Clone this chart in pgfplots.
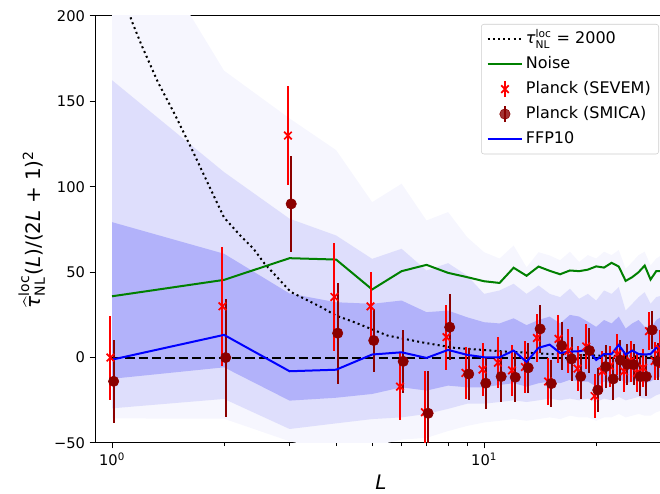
\documentclass[border=0pt]{standalone}
\usepackage{fontspec}
\setmainfont{DejaVu Sans}
\usepackage{amsmath}
\usepackage{pgfplots}
\usepackage{pgfplotstable}
\pgfplotsset{compat=1.18}
\usepgfplotslibrary{fillbetween}
\usetikzlibrary{calc}
\definecolor{bandA}{RGB}{246,246,254}
\definecolor{bandB}{RGB}{222,222,252}
\definecolor{bandC}{RGB}{178,178,250}
\definecolor{mplgreen}{RGB}{0,128,0}
\definecolor{dred}{RGB}{139,0,0}
\pgfplotsset{
  sevemlegend/.style={legend image code/.code={\draw[red, line width=1.5pt] (13pt,-6pt) -- (13pt,6pt); \draw[##1] plot coordinates {(13pt,0pt)};}},
  smicalegend/.style={legend image code/.code={\draw[dred, line width=1.5pt] (13pt,-6pt) -- (13pt,6pt); \draw[##1] plot coordinates {(13pt,0pt)};}},
  linelegend/.style={legend image code/.code={\draw[##1] (0pt,0pt) -- (26pt,0pt);}},
}

\pgfplotstableread{
L olo mlo ilo ihi mhi ohi
1 -35.6 -29.7 -12.4 79.3 162.4 276
2 -35.8 -24.2 -5.7 60.8 108.6 168
3 -49 -41.8 -25.2 37.5 81.3 140
4 -55 -38.5 -23.5 32.4 71.5 121.5
5 -52 -36 -21.3 31.5 57.8 91
6 -48 -35 -17.4 33.4 63.7 101.8
7 -47 -33 -19.3 26.6 51 80.3
8 -43 -30 -16.4 27.5 55.3 85.2
9 -40 -27 -17.4 23.6 48 70.5
10 -38 -27 -17.4 20.7 37.3 61.7
11 -37 -26 -16 20 39.3 58
12 -36 -25 -15 23 43.2 65.6
13 -37 -26 -17 19 37.3 52.9
14 -36 -25 -15 22 42.2 61.7
15 -35 -24 -14 24 37.3 59.8
16 -36 -25 -15 20 35.4 57
17 -34 -24 -13 25 40.3 62
18 -35 -25 -14 24 34.4 56
19 -35 -24 -14 21 37.3 60
20 -37 -26 -17 18 33.4 58
21 -35 -24 -14 22 39.3 62
22 -35 -25 -15 20 37.3 60
23 -33 -23 -12 24 41.2 63
24 -35 -25 -15 17 27.5 52
25 -34 -24 -14 20 31.5 56
26 -33 -23 -13 22 35.4 60
27 -34 -24 -15 18 38.3 62
28 -34 -24 -14 17 31.5 54
29 -32 -22 -12 22 35.4 58
30 -31 -21 -11 24 36.3 60
}\bands

\pgfplotstableread{
L v
1.1 205
1.13 197
1.2 183
1.33 161
1.47 143
1.63 123
1.81 102
2.0 82
2.2 72
2.4 63.7
2.57 55
3.02 38.5
3.65 29.5
4.0 24.6
4.48 20.7
5.5 12.9
6.77 9.0
8.32 5.7
11.1 3.7
15 2.1
20 1.2
30 0.5
}\tautab

\pgfplotstableread{
L v
1 35.9
2 45.5
3 58.2
4 57.4
5 39.9
6 50.6
7 54.3
8 49.6
9 47.1
10 44.7
11 43.7
12 52.6
13 47.9
14 53.3
15 50.8
16 48.8
17 51
18 50.6
19 51.5
20 53.4
21 52.7
22 55.5
23 53.3
24 44.9
25 47.1
26 50.0
27 53.9
28 45.7
29 50.6
30 50.6
}\noise

\pgfplotstableread{
L v
1 -1.2
2 13.3
3 -8.0
4 -7.1
5 1.8
6 3.1
7 -0.2
8 4.5
9 1.6
10 0.2
11 0.2
12 4.1
13 -2.5
14 5.7
15 7.6
16 2.7
17 3.5
18 3.7
19 4.7
20 -1.4
21 2.1
22 2.1
23 7.4
24 1.8
25 4.1
26 2.1
27 1.8
28 2.1
29 5.7
30 7.0
}\ffp

\pgfplotstableread{
L v e
0.99 0 24.6
1.98 30 35
2.97 130 29
3.96 35.5 31.5
4.95 30 20
5.94 -17 19.5
6.93 -32 24
7.92 12 19
8.91 -9 15
9.9 -7 15.5
10.89 -3 15
11.88 -7.5 15
12.87 -5.5 15
13.86 11.5 14
14.85 -14 14
15.84 11 14
16.83 4 13
17.82 -6.5 13
18.81 6.5 13
19.8 -22.5 13
20.79 -8 12
21.78 -5 12
22.77 2 12
23.76 -8 12
24.75 -2 12
25.74 -9 11
26.73 -6 11
27.72 15.5 11
28.71 -2 11
29.7 5 11
}\sevem

\pgfplotstableread{
L v e
1.01 -13.9 24.4
2.02 0 34.5
3.03 90 28
4.04 14.3 29.5
5.05 10 18.5
6.06 -2.2 18.3
7.07 -32.6 25
8.08 17.8 19.5
9.09 -9.6 15
10.1 -15 15
11.11 -11.1 15
12.12 -11.5 14.5
13.13 -6 14.5
14.14 16.8 14
15.15 -15.2 14
16.16 7 14
17.17 -0.8 13
18.18 -11 13
19.19 4.1 13
20.2 -19 13
21.21 -5.3 12.5
22.22 -12.5 12.5
23.23 -1.5 12
24.24 -4 12
25.25 -4.1 12
26.26 -11.1 11.5
27.27 -11.1 11.5
28.28 16.2 11
29.29 -2.3 11
30.3 -2 11
}\smica

\begin{document}
\begin{tikzpicture}
\begin{axis}[
  scale only axis,
  width=429pt, height=320.25pt,
  xmode=log, xmin=0.9, xmax=31,
  ymin=-50, ymax=200,
  xtick={1,10}, xticklabels={10\textsuperscript{0},10\textsuperscript{1}},
  minor xtick={2,3,4,5,6,7,8,9,20,30},
  ytick={-50,0,50,100,150,200},
  yticklabels={−50,0,50,100,150,200},
  xtick pos=bottom, ytick pos=left,
  tick align=outside,
  major tick length=4pt, minor tick length=2.3pt,
  tick style={black, line width=0.75pt},
  axis line style={black, line width=0.75pt},
  tick label style={font=\fontsize{11}{13}\selectfont},
  label style={font=\fontsize{15}{18}\selectfont},
  xlabel={\textit{L}},
  ylabel={$\widehat{\text{\itshape τ}}^{\text{loc}}_{\text{NL}}$(\textit{L})/(2\textit{L} + 1)$^{\text{2}}$},
  legend style={at={(rel axis cs:1,1)}, anchor=north east, xshift=-6pt, yshift=-6pt,
    draw=black!20, rounded corners=2pt, fill=white, fill opacity=0.8, text opacity=1,
    font=\fontsize{12}{14}\selectfont, row sep=1.2pt, inner xsep=4pt, inner ysep=2.5pt,
    nodes={text height=9.5pt, text depth=3pt, inner ysep=2.5pt}},
  legend cell align=left,
  linelegend,
]
\coordinate (bl) at (rel axis cs:0,0);
\coordinate (tr) at (rel axis cs:1,1);
% bands
\addplot[draw=none, name path=olo, forget plot] table[x=L,y=olo]{\bands};
\addplot[draw=none, name path=ohi, forget plot] table[x=L,y=ohi]{\bands};
\addplot[draw=none, name path=mlo, forget plot] table[x=L,y=mlo]{\bands};
\addplot[draw=none, name path=mhi, forget plot] table[x=L,y=mhi]{\bands};
\addplot[draw=none, name path=ilo, forget plot] table[x=L,y=ilo]{\bands};
\addplot[draw=none, name path=ihi, forget plot] table[x=L,y=ihi]{\bands};
\addplot[fill=bandA, draw=none, forget plot] fill between[of=ohi and olo];
\addplot[fill=bandB, draw=none, forget plot] fill between[of=mhi and mlo];
\addplot[fill=bandC, draw=none, forget plot] fill between[of=ihi and ilo];
% zero line
\addplot[black, line width=1.5pt, dash pattern=on 7pt off 3pt, forget plot] coordinates {(1,0) (30,0)};
% tau line
\addplot[black, line width=1.5pt, dash pattern=on 1.5pt off 2.4pt] table[x=L,y=v]{\tautab};
\addlegendentry{$\text{\itshape τ}^{\text{loc}}_{\text{NL}}$ = 2000}
\addplot[mplgreen, line width=1.5pt] table[x=L,y=v]{\noise};
\addlegendentry{Noise}
\addplot[red, only marks, mark=x, mark size=4pt, mark options={line width=1.3pt, solid},
  sevemlegend,
  error bars/.cd, y dir=both, y explicit, error mark=none,
  error bar style={line width=1.5pt, red}]
  table[x=L,y=v,y error=e]{\sevem};
\addlegendentry{Planck (SEVEM)}
\addplot[dred, only marks, mark=*, mark size=3.9pt, mark options={fill=dred, draw=dred, solid},
  smicalegend,
  error bars/.cd, y dir=both, y explicit, error mark=none,
  error bar style={line width=1.5pt, dred}]
  table[x=L,y=v,y error=e]{\smica};
\addlegendentry{Planck (SMICA)}
\addplot[blue, line width=1.5pt] table[x=L,y=v]{\ffp};
\addlegendentry{FFP10}
\end{axis}
\pgfresetboundingbox
\path[use as bounding box] ($(bl)+(-71.25pt,-38.25pt)$) rectangle ($(tr)+(-5.25pt,12pt)$);
\end{tikzpicture}
\end{document}
